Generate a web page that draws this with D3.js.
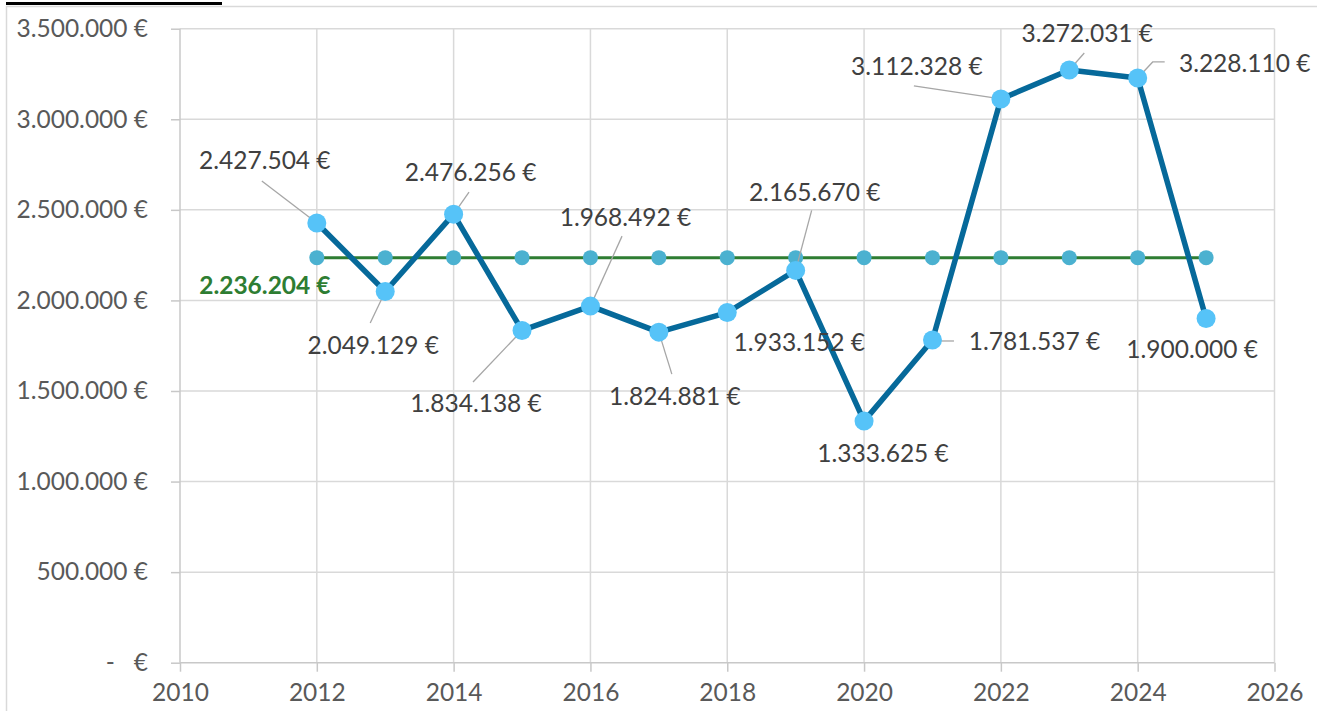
<!DOCTYPE html>
<html>
<head>
<meta charset="utf-8">
<script src="https://cdn.jsdelivr.net/npm/d3@7"></script>
<style>
  html, body { margin: 0; padding: 0; background: #fff; }
  svg { display: block; }
  text { font-family: Lato, "Open Sans", sans-serif; }
</style>
</head>
<body>
<svg id="chart" width="1317" height="711"></svg>
<script>
// ---- data ----
const years = [2012, 2013, 2014, 2015, 2016, 2017, 2018, 2019, 2020, 2021, 2022, 2023, 2024, 2025];
const values = [2427504, 2049129, 2476256, 1834138, 1968492, 1824881, 1933152, 2165670, 1333625, 1781537, 3112328, 3272031, 3228110, 1900000];
const average = [2236204, 2236204, 2236204, 2236204, 2236204, 2236204, 2236204, 2236204, 2236204, 2236204, 2236204, 2236204, 2236204, 2236204];
const averageLabel = 2236204;
const xTicks = [2010, 2012, 2014, 2016, 2018, 2020, 2022, 2024, 2026];
const yTicks = [0, 500000, 1000000, 1500000, 2000000, 2500000, 3000000, 3500000];

// ---- layout of data labels (offsets from point, px) ----
const labelOffsets = [[-52,-63],[-12,53],[17,-43],[-46,72],[35,-90],[16,63],[72,29],[19,-79],[19,31],[102,1],[-84,-33],[18,-37],[107,-15],[-14,30]];
const leaderPaths = [
  [[-55,-42],[0,0]], [[-15,31.5],[0,0]], [[15.4,-22],[0,0]], [[-49,51.5],[0,0]],
  [[31.6,-70],[0,0]], [[13,42],[0,0]], null, [[16,-60],[0,0]], null,
  [[21.5,1],[0,1]], [[-87,-13],[0,0]], [[15,-17],[0,0]], [[27,-16],[15,-16],[0,0]], null
];

const svg = d3.select("#chart");
const L = 180, R = 1274.5, T = 28.7, B = 662.7;

const x = d3.scaleLinear().domain([2010, 2026]).range([L, R]);
const y = d3.scaleLinear().domain([0, 3500000]).range([B, T]);

const loc = d3.formatLocale({decimal: ",", thousands: ".", grouping: [3], currency: ["", " €"]});
const fmt = loc.format(",.0f");
const money = v => v === 0 ? "-\u00A0\u00A0\u00A0€" : fmt(v) + " €";

// outer frame
svg.append("line").attr("x1", 6).attr("x2", 1317).attr("y1", 6.5).attr("y2", 6.5).attr("stroke", "#d9d9d9").attr("stroke-width", 1.5);
svg.append("line").attr("x1", 6.5).attr("x2", 6.5).attr("y1", 6).attr("y2", 711).attr("stroke", "#d9d9d9").attr("stroke-width", 1.5);
svg.append("rect").attr("x", 6).attr("y", 2).attr("width", 216).attr("height", 3).attr("fill", "#000");

// gridlines
svg.append("g").selectAll("line").data(yTicks.filter(d => d > 0)).join("line")
  .attr("x1", L).attr("x2", R).attr("y1", d => y(d)).attr("y2", d => y(d))
  .attr("stroke", "#d9d9d9").attr("stroke-width", 1.5);
svg.append("g").selectAll("line").data(xTicks.filter(d => d > 2010)).join("line")
  .attr("x1", d => x(d)).attr("x2", d => x(d)).attr("y1", T).attr("y2", B)
  .attr("stroke", "#d9d9d9").attr("stroke-width", 1.5);

// axes
const yAxis = svg.append("g").attr("transform", `translate(${L},0)`)
  .call(d3.axisLeft(y).tickValues(yTicks).tickFormat(money).tickSize(9).tickPadding(23));
const xAxis = svg.append("g").attr("transform", `translate(0,${B})`)
  .call(d3.axisBottom(x).tickValues(xTicks).tickFormat(d3.format("d")).tickSize(9).tickPadding(12));
[yAxis, xAxis].forEach(a => {
  a.select(".domain").attr("stroke", "#c8c8c8").attr("stroke-width", 1.5);
  a.selectAll(".tick line").attr("stroke", "#c8c8c8").attr("stroke-width", 1.5);
  a.selectAll(".tick text").attr("fill", "#595959").style("font-size", "24.5px").style("font-family", "Lato");
});
yAxis.select(".domain").attr("d", `M0,${B}V${T}`);
xAxis.select(".domain").attr("d", `M${L},0H${R}`);

// average series
const pts = years.map((yr, i) => ({yr, v: values[i], a: average[i], i}));
svg.append("path").datum(pts)
  .attr("d", d3.line().x(d => x(d.yr)).y(d => y(d.a)))
  .attr("fill", "none").attr("stroke", "#2e7d32").attr("stroke-width", 3);
svg.append("g").selectAll("circle").data(pts).join("circle")
  .attr("cx", d => x(d.yr)).attr("cy", d => y(d.a)).attr("r", 7.5).attr("fill", "#4bb1d0");
svg.append("text").attr("x", x(years[0]) - 52).attr("y", y(averageLabel) + 27)
  .attr("text-anchor", "middle").attr("dominant-baseline", "central")
  .attr("fill", "#2e7d32").style("font-weight", "bold").style("font-size", "24.5px")
  .text(money(averageLabel));

// main series
svg.append("path").datum(pts)
  .attr("d", d3.line().x(d => x(d.yr)).y(d => y(d.v)))
  .attr("fill", "none").attr("stroke", "#06699a").attr("stroke-width", 5.5).attr("stroke-linejoin", "round");

// leader lines
svg.append("g").selectAll("polyline").data(pts.filter(d => leaderPaths[d.i])).join("polyline")
  .attr("points", d => leaderPaths[d.i].map(p => [x(d.yr) + p[0], y(d.v) + p[1]].join(",")).join(" "))
  .attr("fill", "none").attr("stroke", "#a6a6a6").attr("stroke-width", 1.3);

svg.append("g").selectAll("circle").data(pts).join("circle")
  .attr("cx", d => x(d.yr)).attr("cy", d => y(d.v)).attr("r", 9.5).attr("fill", "#56c3f8");

// data labels
svg.append("g").selectAll("text").data(pts).join("text")
  .attr("x", d => x(d.yr) + labelOffsets[d.i][0])
  .attr("y", d => y(d.v) + labelOffsets[d.i][1])
  .attr("text-anchor", "middle").attr("dominant-baseline", "central")
  .attr("fill", "#404040").style("font-size", "24.5px")
  .text(d => money(d.v));
</script>
</body>
</html>
